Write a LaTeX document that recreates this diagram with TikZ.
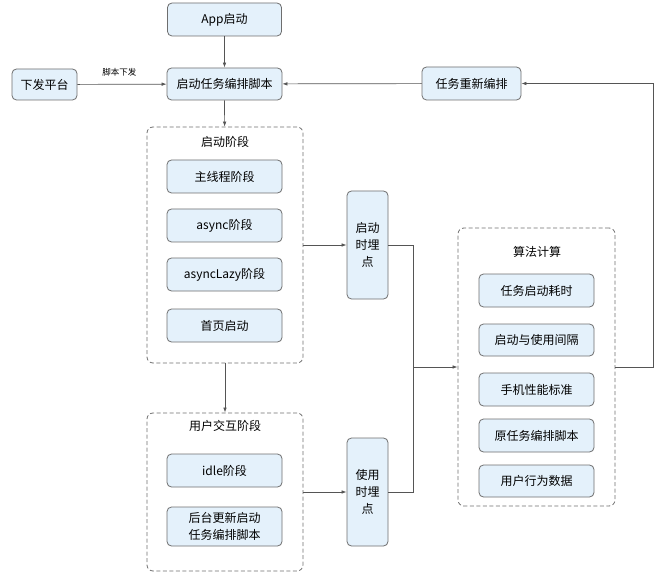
\documentclass[tikz,border=0pt]{standalone}
\usepackage{fontspec}
\setmainfont{Noto Sans CJK SC}
\usetikzlibrary{arrows.meta}
\definecolor{boxfill}{HTML}{E4F1FB}
\definecolor{boxdraw}{HTML}{6E6E6E}
\definecolor{linec}{HTML}{555555}
\tikzset{
  box/.style={draw=boxdraw, fill=boxfill, rounded corners=4.5pt, line width=0.8pt,
    font=\fontsize{12}{17}\selectfont, align=center, inner sep=0pt},
  group/.style={draw=boxdraw, dashed, dash pattern=on 4pt off 2.5pt, rounded corners=6pt, line width=0.8pt, inner sep=0pt},
  gtitle/.style={font=\fontsize{12}{15}\selectfont},
  conn/.style={draw=linec, line width=0.7pt},
  arr/.style={conn, -{Latex[length=5pt,width=3.6pt]}},
  small/.style={font=\fontsize{8.5}{10}\selectfont}
}
\begin{document}
\begin{tikzpicture}[x=1pt,y=-1pt]
\useasboundingbox (0,0) rectangle (664,580);
% containers
\node[group, minimum width=156pt, minimum height=236pt] (stage1) at (225,245) {};
\node[gtitle] (t1) at (225,142) {启动阶段};
\node[group, minimum width=156pt, minimum height=158pt] (stage2) at (225,492) {};
\node[gtitle] (t2) at (225,426) {用户交互阶段};
\node[group, minimum width=157pt, minimum height=278pt] (algo) at (536.5,367) {};
\node[gtitle] (t3) at (537,252) {算法计算};
% top boxes
\node[box, minimum width=114pt, minimum height=33pt] (app) at (224.5,19.5) {App启动};
\node[box, minimum width=115pt, minimum height=32pt] (script) at (224.5,84) {启动任务编排脚本};
\node[box, minimum width=65pt, minimum height=31pt] (plat) at (44.5,84.5) {下发平台};
\node[box, minimum width=99pt, minimum height=33pt] (replan) at (471.5,83.5) {任务重新编排};
% stage 1
\node[box, minimum width=115pt, minimum height=33pt] (main) at (224.5,176.5) {主线程阶段};
\node[box, minimum width=115pt, minimum height=33pt] (async) at (224.5,225.5) {async阶段};
\node[box, minimum width=115pt, minimum height=33pt] (lazy) at (224.5,274.5) {asyncLazy阶段};
\node[box, minimum width=115pt, minimum height=33pt] (home) at (224.5,325.5) {首页启动};
% stage 2
\node[box, minimum width=115pt, minimum height=33pt] (idle) at (224.5,470.5) {idle阶段};
\node[box, minimum width=115pt, minimum height=39pt] (bg) at (224.5,526.5) {后台更新启动\\任务编排脚本};
% tracking points
\node[box, minimum width=41pt, minimum height=108pt] (tp1) at (367.5,245) {启动\\时埋\\点};
\node[box, minimum width=41pt, minimum height=108pt] (tp2) at (367.5,492) {使用\\时埋\\点};
% algo
\node[box, minimum width=115pt, minimum height=33pt] (a1) at (536.5,290.5) {任务启动耗时};
\node[box, minimum width=115pt, minimum height=32pt] (a2) at (536.5,340) {启动与使用间隔};
\node[box, minimum width=115pt, minimum height=33pt] (a3) at (536.5,389.5) {手机性能标准};
\node[box, minimum width=115pt, minimum height=33pt] (a4) at (536.5,435.5) {原任务编排脚本};
\node[box, minimum width=115pt, minimum height=32pt] (a5) at (536.5,481) {用户行为数据};
% coordinates
\coordinate (j) at (413,367);
\coordinate (rc) at (653,367);
% connectors
\draw[arr] (app) -- (script);
\draw[arr] (plat) -- node[small, above=4pt, pos=0.47] {脚本下发} (script);
\draw[arr] (replan) -- (script);
\draw[arr] (script) -- (stage1);
\draw[arr] (stage1) -- (stage2);
\draw[arr] (stage1.east) -- (tp1.west);
\draw[arr] (stage2.east) -- (tp2.west);
\draw[conn] (tp1.east) -| (j);
\draw[conn] (tp2.east) -| (j);
\draw[arr] (j) -- (algo.west);
\draw[arr] (algo.east) -- (rc) |- (replan.east);
\end{tikzpicture}
\end{document}
